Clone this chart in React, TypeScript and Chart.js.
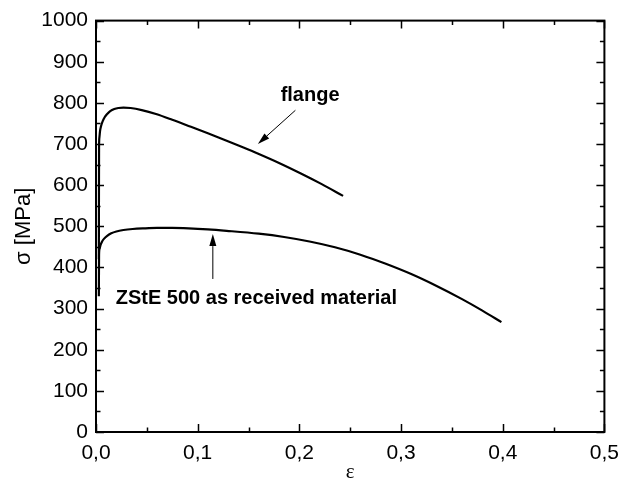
import React, { useEffect, useRef } from 'react';
import { Chart, registerables } from 'chart.js';

Chart.register(...registerables);

// ---- data ----
const flangeStrain = [0.0028, 0.003, 0.0033, 0.004, 0.005, 0.0065, 0.0085, 0.011, 0.014, 0.018, 0.022, 0.027, 0.034, 0.045, 0.059, 0.075, 0.091, 0.11, 0.1285, 0.145, 0.159, 0.18, 0.201, 0.222, 0.243];
const flangeStress = [420, 690, 715, 732, 744, 755, 765, 773, 780, 785, 787.5, 788.5, 787.5, 782.5, 773, 759, 744, 726, 708, 691.5, 677, 654, 629, 602.5, 574];

const receivedStrain = [0.0028, 0.003, 0.0035, 0.0045, 0.006, 0.008, 0.011, 0.015, 0.02, 0.027, 0.036, 0.047, 0.06, 0.075, 0.091, 0.11, 0.1285, 0.16, 0.185, 0.21, 0.235, 0.26, 0.285, 0.31, 0.335, 0.36, 0.38, 0.3987];
const receivedStress = [330, 430, 445, 455, 463, 470, 477, 483, 487.5, 491, 493.5, 495, 496, 496, 495, 492.5, 489, 482, 474, 463, 449, 431, 409, 384, 355, 323, 295, 267];

const xMajorTicks = [0, 0.1, 0.2, 0.3, 0.4, 0.5];
const xMinorTicks = [0.05, 0.15, 0.25, 0.35, 0.45];
const yMajorTicks = [0, 100, 200, 300, 400, 500, 600, 700, 800, 900, 1000];
const yMinorTicks = [50, 150, 250, 350, 450, 550, 650, 750, 850, 950];

const xTitle = 'ε';
const yTitle = 'σ [MPa]';
const flangeLabel = 'flange';
const receivedLabel = 'ZStE 500 as received material';

const SANS = '"Liberation Sans", Arial, Helvetica, sans-serif';

const annotations = {
  flangeText: { x: 0.1816, y: 804 },
  flangeArrowFrom: { x: 0.1961, y: 782 },
  flangeArrowTo: { x: 0.1592, y: 700 },
  receivedText: { x: 0.0194, y: 312 },
  receivedArrowFrom: { x: 0.1149, y: 372 },
  receivedArrowTo: { x: 0.1149, y: 481 },
};

function drawArrow(ctx: CanvasRenderingContext2D, x1: number, y1: number, x2: number, y2: number) {
  const ang = Math.atan2(y2 - y1, x2 - x1);
  const len = 12;
  const hw = 3.5;
  const bx = x2 - Math.cos(ang) * len;
  const by = y2 - Math.sin(ang) * len;
  ctx.beginPath();
  ctx.moveTo(x1, y1);
  ctx.lineTo(bx, by);
  ctx.lineWidth = 1;
  ctx.strokeStyle = '#000';
  ctx.stroke();
  ctx.beginPath();
  ctx.moveTo(x2, y2);
  ctx.lineTo(bx - Math.sin(ang) * hw, by + Math.cos(ang) * hw);
  ctx.lineTo(bx + Math.sin(ang) * hw, by - Math.cos(ang) * hw);
  ctx.closePath();
  ctx.fillStyle = '#000';
  ctx.fill();
}

const framePlugin = {
  id: 'frameAndAnnotations',
  afterDraw(chart: any) {
    const { ctx, chartArea } = chart;
    const xs = chart.scales.x;
    const ys = chart.scales.y;
    const { left, right, top, bottom } = chartArea;
    ctx.save();
    ctx.strokeStyle = '#000';
    ctx.lineWidth = 2;
    ctx.strokeRect(left, top, right - left, bottom - top);

    const major = 8;
    const minor = 4.5;
    ctx.lineWidth = 1.5;
    ctx.beginPath();
    const xt = (v: number, l: number) => {
      const px = Math.round(xs.getPixelForValue(v)) + 0.5;
      ctx.moveTo(px, bottom);
      ctx.lineTo(px, bottom - l);
      ctx.moveTo(px, top);
      ctx.lineTo(px, top + l);
    };
    const yt = (v: number, l: number) => {
      const py = Math.round(ys.getPixelForValue(v)) + 0.5;
      ctx.moveTo(left, py);
      ctx.lineTo(left + l, py);
      ctx.moveTo(right, py);
      ctx.lineTo(right - l, py);
    };
    xMajorTicks.forEach((v) => xt(v, major));
    xMinorTicks.forEach((v) => xt(v, minor));
    yMajorTicks.forEach((v) => yt(v, major));
    yMinorTicks.forEach((v) => yt(v, minor));
    ctx.stroke();

    // annotations
    const P = (p: { x: number; y: number }) => [xs.getPixelForValue(p.x), ys.getPixelForValue(p.y)];
    ctx.font = `bold 20px ${SANS}`;
    ctx.fillStyle = '#000';
    ctx.textAlign = 'left';
    ctx.textBaseline = 'alphabetic';
    const [fx, fy] = P(annotations.flangeText);
    ctx.fillText(flangeLabel, fx, fy);
    const [rx, ry] = P(annotations.receivedText);
    ctx.fillText(receivedLabel, rx, ry);

    const [a1x, a1y] = P(annotations.flangeArrowFrom);
    const [a2x, a2y] = P(annotations.flangeArrowTo);
    drawArrow(ctx, a1x, a1y, a2x, a2y);
    const [b1x, b1y] = P(annotations.receivedArrowFrom);
    const [b2x, b2y] = P(annotations.receivedArrowTo);
    drawArrow(ctx, b1x, b1y, b2x, b2y);
    ctx.restore();
  },
};

export default function App() {
  const ref = useRef<HTMLCanvasElement | null>(null);

  useEffect(() => {
    if (!ref.current) return;
    const toPts = (xs: number[], ys: number[]) => xs.map((x, i) => ({ x, y: ys[i] }));
    const chart = new Chart(ref.current, {
      type: 'scatter',
      data: {
        datasets: [
          {
            label: flangeLabel,
            data: toPts(flangeStrain, flangeStress),
            showLine: true,
            borderColor: '#000',
            borderWidth: 2.2,
            pointRadius: 0,
            cubicInterpolationMode: 'monotone',
          },
          {
            label: receivedLabel,
            data: toPts(receivedStrain, receivedStress),
            showLine: true,
            borderColor: '#000',
            borderWidth: 2.2,
            pointRadius: 0,
            cubicInterpolationMode: 'monotone',
          },
        ],
      },
      options: {
        animation: false,
        responsive: false,
        maintainAspectRatio: false,
        events: [],
        layout: { padding: { left: 0, right: 17, top: 19, bottom: 0 } },
        plugins: { legend: { display: false }, tooltip: { enabled: false }, title: { display: false } },
        scales: {
          x: {
            type: 'linear',
            min: 0,
            max: 0.5,
            afterBuildTicks: (s: any) => {
              s.ticks = xMajorTicks.map((v) => ({ value: v }));
            },
            afterFit: (s: any) => {
              s.height = 54;
            },
            grid: { display: false, drawTicks: false, tickLength: 0 },
            border: { display: false },
            ticks: {
              color: '#000',
              padding: 9,
              maxRotation: 0,
              font: { family: SANS, size: 21 },
              callback: (v: any) => Number(v).toFixed(1).replace('.', ','),
            },
            title: {
              display: true,
              text: xTitle,
              color: '#000',
              font: { family: '"Liberation Serif", "Times New Roman", serif', size: 21, lineHeight: 1.2 },
              padding: { top: 0, bottom: 1 },
            },
          },
          y: {
            type: 'linear',
            min: 0,
            max: 1000,
            afterBuildTicks: (s: any) => {
              s.ticks = yMajorTicks.map((v) => ({ value: v }));
            },
            afterFit: (s: any) => {
              s.width = 96;
            },
            grid: { display: false, drawTicks: false, tickLength: 0 },
            border: { display: false },
            ticks: {
              color: '#000',
              padding: 8,
              font: { family: SANS, size: 21 },
              callback: (v: any) => String(v),
            },
            title: {
              display: true,
              text: yTitle,
              color: '#000',
              font: { family: SANS, size: 22, lineHeight: 1.2 },
              padding: { top: 11, bottom: 0 },
            },
          },
        },
      },
      plugins: [framePlugin],
    } as any);
    return () => chart.destroy();
  }, []);

  return (
    <div style={{ position: 'fixed', left: 0, top: 0, width: 628, height: 486, background: '#fff' }}>
      <canvas ref={ref} width={628} height={486} style={{ width: 628, height: 486, display: 'block' }} />
    </div>
  );
}
